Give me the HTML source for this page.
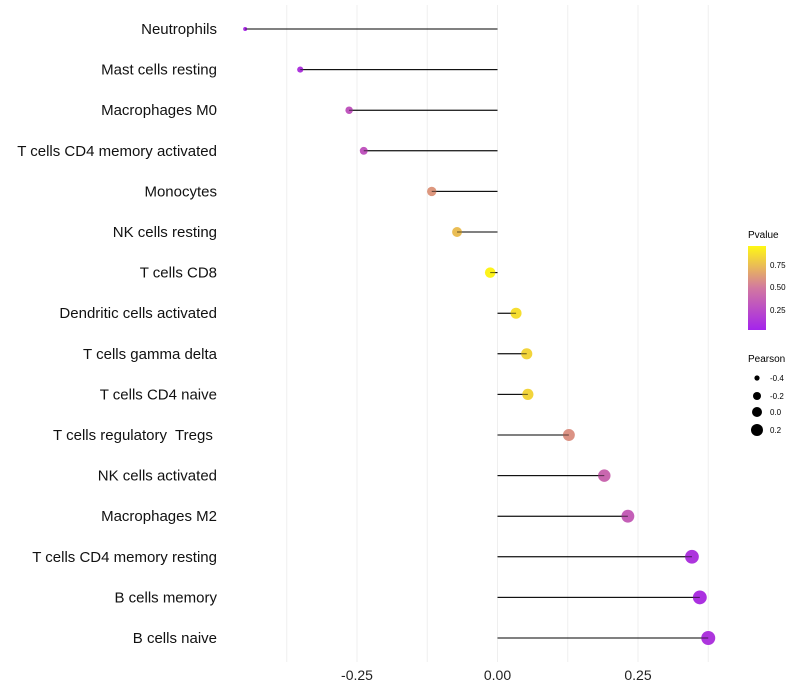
<!DOCTYPE html>
<html><head><meta charset="utf-8"><style>
body{margin:0;background:#fff;}
svg{display:block;font-family:"Liberation Sans",sans-serif;}
#labels text{white-space:pre;}
</style></head><body>
<svg id="chart" width="800" height="700">
<defs><linearGradient id="pg" x1="0" y1="1" x2="0" y2="0">
<stop offset="0" stop-color="rgb(164,36,236)"/><stop offset="0.5" stop-color="rgb(210,120,160)"/><stop offset="1" stop-color="rgb(255,248,20)"/></linearGradient></defs>
<g id="grid"></g><g id="marks"></g><g id="labels"></g>
<g>
<text x="748" y="238" font-size="10">Pvalue</text>
<rect x="748" y="246" width="18" height="84" fill="url(#pg)"/>
<text x="770" y="268" font-size="8">0.75</text>
<text x="770" y="290" font-size="8">0.50</text>
<text x="770" y="313" font-size="8">0.25</text>
</g>
<g>
<text x="748" y="362" font-size="10">Pearson</text>
<circle cx="757" cy="378" r="2.6"/><text x="770" y="381" font-size="8">-0.4</text>
<circle cx="757" cy="396" r="4"/><text x="770" y="399" font-size="8">-0.2</text>
<circle cx="757" cy="412" r="5"/><text x="770" y="415" font-size="8">0.0</text>
<circle cx="757" cy="430" r="6"/><text x="770" y="433" font-size="8">0.2</text>
</g>
</svg>
<script>
const categories=["Neutrophils","Mast cells resting","Macrophages M0","T cells CD4 memory activated","Monocytes","NK cells resting","T cells CD8","Dendritic cells activated","T cells gamma delta","T cells CD4 naive","T cells regulatory  Tregs ","NK cells activated","Macrophages M2","T cells CD4 memory resting","B cells memory","B cells naive"];
const pearson=[-0.449,-0.351,-0.264,-0.238,-0.117,-0.072,-0.013,0.033,0.052,0.054,0.127,0.19,0.232,0.346,0.36,0.375];
const pvalues=[0.05,0.1,0.3,0.3,0.62,0.77,0.98,0.9,0.86,0.86,0.6,0.4,0.35,0.1,0.08,0.1];
const tickValues=[-0.25,0,0.25];
const tickLabels=["-0.25","0.00","0.25"];
const NS="http://www.w3.org/2000/svg";
const x=v=>497.5+v*562;
const y=i=>29+i*40.6;
function col(p){const s=[[164,36,236],[210,120,160],[255,248,20]];let t=Math.max(0,Math.min(1,p));let a,b,f;if(t<0.5){a=s[0];b=s[1];f=t/0.5;}else{a=s[1];b=s[2];f=(t-0.5)/0.5;}return "rgb("+a.map((c,k)=>Math.round(c+(b[k]-c)*f)).join(",")+")";}
function mk(tag,attrs,parent){const e=document.createElementNS(NS,tag);for(const k in attrs)e.setAttribute(k,attrs[k]);parent.appendChild(e);return e;}
const grid=document.getElementById('grid'),marks=document.getElementById('marks'),labels=document.getElementById('labels');
for(let v=-0.375;v<=0.376;v+=0.125){const l=mk('line',{x1:x(v),x2:x(v),y1:5,y2:662,stroke:'#efefef','stroke-width':1},grid);

}
tickValues.forEach((v,i)=>{const t=mk('text',{x:x(v),y:680,'font-size':14,'text-anchor':'middle',fill:'#222'},labels);t.textContent=tickLabels[i];

});
categories.forEach((c,i)=>{
const t=mk('text',{x:217,y:y(i)+5,'font-size':15,'text-anchor':'end',fill:'#111'},labels);t.textContent=c;


const l=mk('line',{x1:x(0),x2:x(pearson[i]),y1:y(i),y2:y(i),stroke:'#000','stroke-width':1},marks);


const r=Math.sqrt(Math.max(2,28.5+54.5*pearson[i]));
const d=mk('circle',{cx:x(pearson[i]),cy:y(i),r:r,fill:col(pvalues[i])},marks);


const l2=mk('line',{x1:x(0),x2:x(pearson[i]),y1:y(i),y2:y(i),stroke:'#000','stroke-width':1,'stroke-opacity':0.6},marks);


});
</script>
</body></html>
